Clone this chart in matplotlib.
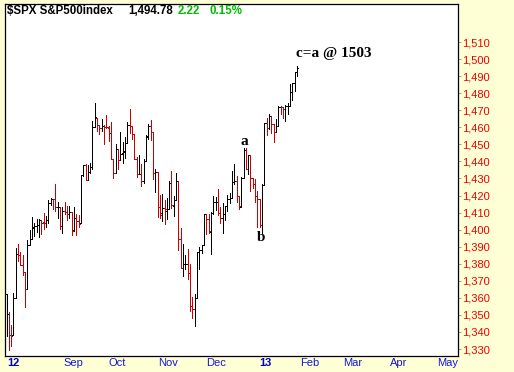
import matplotlib
matplotlib.use("Agg")
import matplotlib.pyplot as plt

# daily OHLC, $SPX, Jul 23 2012 - Jan 23 2013 (one entry per trading day)
opens = [
    1362.34, 1350.52, 1338.35, 1338.17, 1360.05, 1385.94, 1385.27,
    1379.32, 1375.13, 1365.45, 1391.04, 1394.46, 1401.23, 1402.26, 1402.58, 1405.87, 1404.36, 1403.89, 1405.57,
    1415.84, 1417.85, 1418.13, 1413.09, 1413.49, 1401.99, 1411.13, 1410.44, 1409.32, 1410.08, 1400.07,
    1406.54, 1404.94, 1403.74, 1432.12, 1437.92, 1429.13, 1433.56, 1436.56, 1460.07, 1465.42, 1461.19,
    1459.50, 1461.05, 1460.34, 1459.76, 1456.94, 1441.60, 1433.36, 1447.13,
    1440.90, 1444.99, 1446.05, 1451.08, 1461.40, 1460.93, 1455.90, 1441.48, 1432.82, 1432.84, 1428.75,
    1440.31, 1454.22, 1460.94, 1457.34, 1433.21, 1433.74, 1413.20, 1409.74, 1412.97, 1410.99,
    1412.20, 1427.59, 1414.02, 1417.26, 1428.27, 1394.53, 1377.55, 1379.86, 1380.03, 1374.64, 1355.41,
    1353.36, 1359.88, 1386.82, 1387.79, 1391.03, 1409.15, 1406.29, 1398.77, 1409.96, 1415.95,
    1416.34, 1409.46, 1407.05, 1409.43, 1413.95, 1418.07, 1418.55, 1427.84, 1428.48, 1419.45,
    1413.54, 1430.47, 1446.79, 1435.81, 1443.67, 1430.15, 1426.66, 1419.83, 1418.10, 1402.43,
    1426.19, 1462.42, 1459.37, 1466.47, 1461.89, 1457.15, 1461.02, 1472.12, 1472.05, 1470.67,
    1472.33, 1472.63, 1480.95, 1485.98, 1492.56,
]
highs = [
    1362.34, 1351.53, 1343.98, 1363.13, 1389.19, 1391.74, 1387.16,
    1385.03, 1375.13, 1394.16, 1399.63, 1407.14, 1404.14, 1405.95, 1405.98, 1405.87, 1410.03, 1407.73, 1417.44,
    1418.71, 1418.13, 1426.68, 1416.12, 1413.49, 1413.46, 1416.17, 1413.63, 1413.95, 1410.08, 1413.09,
    1409.31, 1408.81, 1432.12, 1437.92, 1438.74, 1437.76, 1439.15, 1463.76, 1474.51, 1465.63, 1461.47,
    1465.05, 1461.23, 1467.07, 1460.72, 1463.24, 1441.60, 1450.20, 1447.13,
    1457.14, 1451.52, 1454.30, 1463.14, 1470.96, 1460.93, 1455.90, 1442.52, 1443.90, 1438.43, 1441.31,
    1455.51, 1462.20, 1464.02, 1457.34, 1435.46, 1433.74, 1420.04, 1421.12, 1417.09, 1418.76,
    1428.35, 1434.27, 1419.90, 1433.38, 1428.27, 1401.23, 1391.39, 1384.87, 1388.81, 1380.13, 1360.62,
    1362.03, 1386.89, 1389.77, 1391.25, 1409.16, 1409.15, 1409.01, 1410.31, 1419.70, 1418.86,
    1423.73, 1413.14, 1415.56, 1413.95, 1420.34, 1421.64, 1434.27, 1438.59, 1431.36, 1419.45,
    1430.67, 1448.00, 1447.75, 1443.70, 1443.67, 1430.15, 1429.42, 1422.80, 1418.10, 1426.74,
    1462.43, 1465.47, 1467.94, 1466.47, 1461.89, 1464.73, 1472.30, 1472.75, 1472.05, 1473.31,
    1473.96, 1485.16, 1485.98, 1492.56, 1496.13,
]
lows = [
    1337.56, 1329.24, 1331.50, 1338.17, 1360.05, 1381.37, 1379.17,
    1373.35, 1354.65, 1365.45, 1391.04, 1394.46, 1396.13, 1398.80, 1395.62, 1397.32, 1400.60, 1401.83, 1404.15,
    1414.67, 1412.12, 1410.86, 1406.78, 1400.50, 1398.04, 1409.11, 1405.59, 1406.57, 1397.01, 1398.96,
    1396.56, 1401.25, 1403.74, 1431.45, 1428.98, 1429.13, 1432.99, 1435.34, 1460.07, 1457.55, 1456.13,
    1457.88, 1449.98, 1459.51, 1452.06, 1441.59, 1430.53, 1433.36, 1435.60,
    1440.90, 1439.01, 1441.99, 1451.08, 1456.89, 1453.10, 1441.18, 1430.64, 1432.82, 1425.53, 1427.24,
    1440.31, 1453.35, 1452.63, 1429.85, 1422.06, 1407.56, 1407.10, 1405.14, 1403.28, 1405.95,
    1412.20, 1412.91, 1408.13, 1417.26, 1388.14, 1377.51, 1373.03, 1377.19, 1370.78, 1352.50, 1348.05,
    1343.35, 1359.88, 1377.04, 1386.39, 1391.03, 1397.68, 1398.03, 1385.43, 1409.04, 1411.63,
    1408.46, 1403.65, 1398.23, 1405.93, 1410.90, 1415.64, 1418.55, 1426.76, 1416.00, 1411.88,
    1413.54, 1430.47, 1435.80, 1432.82, 1422.58, 1424.66, 1416.43, 1401.80, 1401.58, 1398.11,
    1426.19, 1455.53, 1458.99, 1456.62, 1451.64, 1457.15, 1461.02, 1467.58, 1465.69, 1463.76,
    1467.60, 1472.63, 1475.81, 1481.16, 1489.90,
]
closes = [
    1350.52, 1338.31, 1337.89, 1360.02, 1385.97, 1385.30, 1379.32,
    1375.32, 1365.00, 1390.99, 1394.23, 1401.35, 1402.22, 1402.80, 1405.87, 1404.11, 1403.93, 1405.53, 1415.51,
    1418.16, 1418.13, 1413.17, 1413.49, 1402.08, 1411.13, 1410.44, 1409.30, 1410.49, 1399.48, 1406.58,
    1404.94, 1403.44, 1432.12, 1437.92, 1429.08, 1433.56, 1436.56, 1459.99, 1465.77, 1461.19, 1459.32,
    1461.05, 1460.26, 1460.15, 1456.89, 1441.59, 1433.32, 1447.15, 1440.67,
    1444.49, 1445.75, 1450.99, 1461.40, 1460.93, 1455.88, 1441.48, 1432.56, 1432.84, 1428.59, 1440.13,
    1454.92, 1460.91, 1457.34, 1433.19, 1433.82, 1413.11, 1408.75, 1412.97, 1411.94, 1412.16,
    1427.59, 1414.20, 1417.26, 1428.39, 1394.53, 1377.51, 1379.85, 1380.03, 1374.53, 1355.49, 1353.33,
    1359.88, 1386.89, 1387.81, 1391.03, 1409.15, 1406.29, 1398.94, 1409.93, 1415.95, 1416.18,
    1409.46, 1407.05, 1409.28, 1413.94, 1418.07, 1418.55, 1427.84, 1428.48, 1419.45, 1413.58,
    1430.36, 1446.79, 1435.81, 1443.69, 1430.15, 1426.66, 1419.83, 1418.10, 1402.43, 1426.19,
    1462.42, 1459.37, 1466.47, 1461.89, 1457.15, 1461.02, 1472.12, 1472.05, 1470.68, 1472.34,
    1472.63, 1480.94, 1485.98, 1492.56, 1494.78,
]

# month labels along the bottom (position in trading days)
month_pos = [3.0, 28.8, 47.6, 69.5, 90.1, 111.2, 130.5, 148.9, 168.7, 189.7]
month_labels = ['12', 'Sep', 'Oct', 'Nov', 'Dec', '13', 'Feb', 'Mar', 'Apr', 'May']
price_ticks = list(range(1330, 1511, 10))

bg = '#FFFFD6'
up_col = '#000000'
dn_col = '#CC0000'

W, H = 514, 372
fig = plt.figure(figsize=(W / 100, H / 100), dpi=100, facecolor=bg)
ax = fig.add_axes([5 / W, 1 - 356 / H, (458 - 5) / W, (356 - 4) / H])
ax.set_facecolor('white')

x = list(range(len(closes)))
cols = [up_col]
for i in range(1, len(closes)):
    cols.append(up_col if closes[i] >= closes[i - 1] else dn_col)

lw = 0.72
ax.vlines(x, lows, highs, colors=cols, lw=lw, antialiased=False)
ax.hlines(opens, [v - 0.5 for v in x], x, colors=cols, lw=lw, antialiased=False)
ax.hlines(closes, x, [v + 0.5 for v in x], colors=cols, lw=lw, antialiased=False)

ax.set_xlim(-0.65, 194.3)
ax.set_ylim(1325.9, 1532.3)

# axes styling
for s in ax.spines.values():
    s.set_linewidth(0.9)
    s.set_color('black')

ax.yaxis.tick_right()
ax.set_yticks(price_ticks)
ax.set_yticklabels([f'{v:,}' for v in price_ticks])
ax.tick_params(axis='y', length=2.5, width=0.6, color='#888888', labelcolor='#EE0000',
               labelsize=8, pad=0.8)
for t in ax.get_yticklabels():
    t.set_fontfamily('Liberation Sans')

ax.set_xticks(month_pos)
ax.set_xticklabels(month_labels)
ax.tick_params(axis='x', length=0, labelcolor='#1515E0', labelsize=8, pad=1.5)
for t in ax.get_xticklabels():
    t.set_fontfamily('Liberation Sans')
    if t.get_text() in ('12', '13'):
        t.set_fontweight('bold')
        t.set_color('#0000CC')

# header line
hy = 1 - 11.5 / H
hdr = dict(fontsize=8.3, fontweight='bold', family='Liberation Sans', va='center')
fig.text(7 / W, hy, '$SPX S&P500index', color='black', **hdr)
fig.text(128 / W, hy, '1,494.78', color='black', **hdr)
fig.text(178 / W, hy, '2.22', color='#00BB00', **hdr)
fig.text(210 / W, hy, '0.15%', color='#00BB00', **hdr)

# wave annotations
ann = dict(family='Liberation Serif', fontweight='bold', color='black')
ax.text(102.4, 1451.4, 'a', ha='center', va='center', fontsize=11, **ann)
ax.text(109.7, 1395.4, 'b', ha='center', va='center', fontsize=11, **ann)
ax.text(124.6, 1503.5, 'c=a @ 1503', ha='left', va='center', fontsize=11, **ann)

fig.savefig('out.png', dpi=100, facecolor=bg)
